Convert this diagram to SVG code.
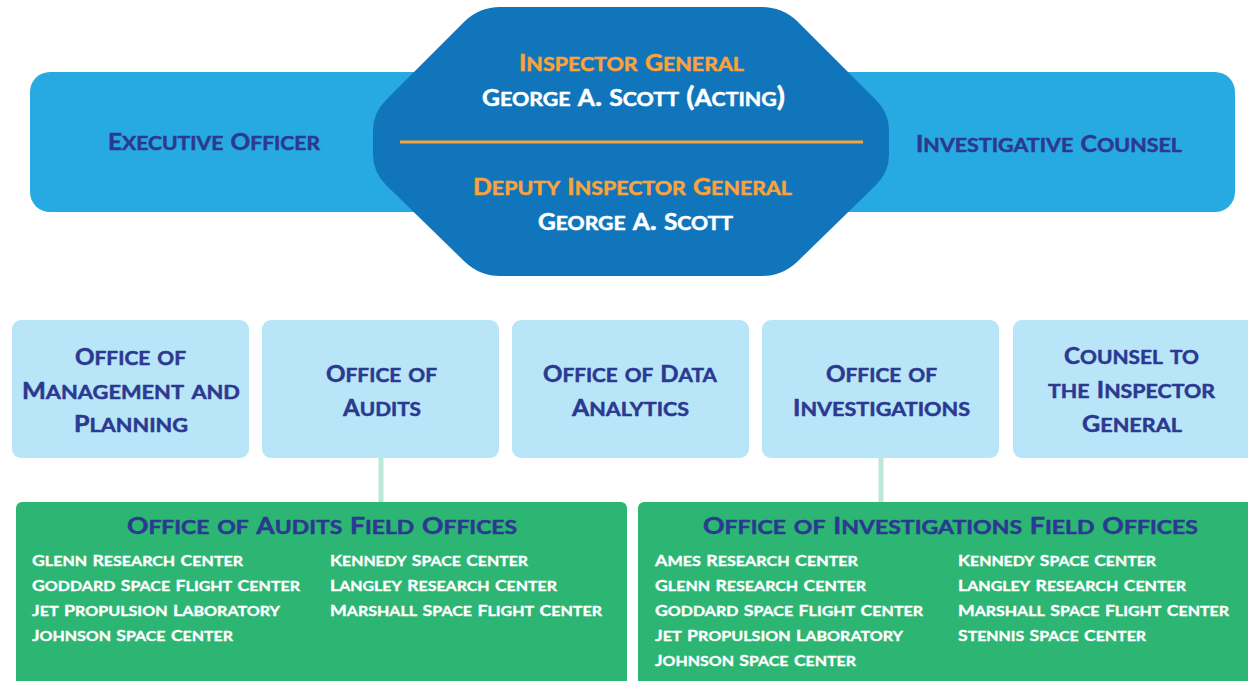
<svg xmlns="http://www.w3.org/2000/svg" width="1248" height="681" viewBox="0 0 1248 681">
<style>
text{font-family:Lato,"Open Sans","Liberation Sans",sans-serif;font-weight:bold;font-variant:small-caps;stroke-width:0.5px;stroke-linejoin:round;}
text.h{font-size:26.5px;}
text.h tspan{font-size:22px;}
text.l{font-size:19.5px;fill:#FFFFFF;stroke:#FFFFFF;stroke-width:0.35px;}
text.l tspan{font-size:15.5px;}
.navy{fill:#2B3990;stroke:#2B3990;}
.org{fill:#F9A33A;stroke:#F9A33A;}
.wh{fill:#FFFFFF;stroke:#FFFFFF;}
.c{text-anchor:middle;}
.lt{fill:#B9E5F9;}
.gr{fill:#2DB673;}
.conn{stroke:#BDE8D5;stroke-width:5;fill:none;}
</style>
<rect width="1248" height="681" fill="#FFFFFF"/>
<g id="top-bar">
<rect x="30" y="72" width="1205" height="140" rx="20" fill="#27AAE1"/>
</g>
<g id="executive-officer">
<text class="h navy c" x="214" y="150" textLength="212" lengthAdjust="spacingAndGlyphs"><tspan>E</tspan>xecutive <tspan>O</tspan>fficer</text>
</g>
<g id="investigative-counsel">
<text class="h navy c" x="1049" y="152" textLength="266" lengthAdjust="spacingAndGlyphs"><tspan>I</tspan>nvestigative <tspan>C</tspan>ounsel</text>
</g>
<g id="inspector-general">
<path d="M 500 7 L 762 7 Q 782 7 797 21 L 876 100 Q 889 113 889 130 L 889 155 Q 889 172 876 185 L 797 262 Q 782 276 762 276 L 500 276 Q 480 276 465 262 L 386 185 Q 373 172 373 155 L 373 130 Q 373 113 386 100 L 465 21 Q 480 7 500 7 Z" fill="#1175BC"/>
<text class="h org c" x="631.5" y="71" textLength="225" lengthAdjust="spacingAndGlyphs"><tspan>I</tspan>nspector <tspan>G</tspan>eneral</text>
<text class="h wh c" x="633.5" y="106" textLength="303" lengthAdjust="spacingAndGlyphs"><tspan>G</tspan>eorge <tspan>A</tspan>. <tspan>S</tspan>cott (<tspan>A</tspan>cting)</text>
<line x1="400" y1="142" x2="863" y2="142" stroke="#F9A33A" stroke-width="3"/>
<text class="h org c" x="632.5" y="195" textLength="319" lengthAdjust="spacingAndGlyphs"><tspan>D</tspan>eputy <tspan>I</tspan>nspector <tspan>G</tspan>eneral</text>
<text class="h wh c" x="635.5" y="230" textLength="195" lengthAdjust="spacingAndGlyphs"><tspan>G</tspan>eorge <tspan>A</tspan>. <tspan>S</tspan>cott</text>
</g>
<g id="connectors">
<line class="conn" x1="381" y1="458" x2="381" y2="503"/>
<line class="conn" x1="881" y1="458" x2="881" y2="503"/>
</g>
<g id="office-management-planning">
<rect class="lt" x="12" y="320" width="237" height="138" rx="9"/>
<text class="h navy c" x="130.5" y="365" textLength="111" lengthAdjust="spacingAndGlyphs"><tspan>O</tspan>ffice of</text>
<text class="h navy c" x="131" y="399" textLength="218" lengthAdjust="spacingAndGlyphs"><tspan>M</tspan>anagement and</text>
<text class="h navy c" x="131" y="432" textLength="114" lengthAdjust="spacingAndGlyphs"><tspan>P</tspan>lanning</text>
</g>
<g id="office-audits">
<rect class="lt" x="262" y="320" width="237" height="138" rx="9"/>
<text class="h navy c" x="381.5" y="382" textLength="111" lengthAdjust="spacingAndGlyphs"><tspan>O</tspan>ffice of</text>
<text class="h navy c" x="382" y="416" textLength="78" lengthAdjust="spacingAndGlyphs"><tspan>A</tspan>udits</text>
</g>
<g id="office-data-analytics">
<rect class="lt" x="512" y="320" width="237" height="138" rx="9"/>
<text class="h navy c" x="630" y="382" textLength="174" lengthAdjust="spacingAndGlyphs"><tspan>O</tspan>ffice of <tspan>D</tspan>ata</text>
<text class="h navy c" x="630.5" y="416" textLength="117" lengthAdjust="spacingAndGlyphs"><tspan>A</tspan>nalytics</text>
</g>
<g id="office-investigations">
<rect class="lt" x="762" y="320" width="237" height="138" rx="9"/>
<text class="h navy c" x="881.5" y="382" textLength="111" lengthAdjust="spacingAndGlyphs"><tspan>O</tspan>ffice of</text>
<text class="h navy c" x="881.5" y="416" textLength="177" lengthAdjust="spacingAndGlyphs"><tspan>I</tspan>nvestigations</text>
</g>
<g id="counsel-ig">
<rect class="lt" x="1013" y="320" width="245" height="138" rx="9"/>
<text class="h navy c" x="1131.5" y="364" textLength="135" lengthAdjust="spacingAndGlyphs"><tspan>C</tspan>ounsel to</text>
<text class="h navy c" x="1131.5" y="398" textLength="167" lengthAdjust="spacingAndGlyphs">the <tspan>I</tspan>nspector</text>
<text class="h navy c" x="1132" y="432" textLength="100" lengthAdjust="spacingAndGlyphs"><tspan>G</tspan>eneral</text>
</g>
<g id="audits-field-offices">
<rect class="gr" x="16" y="502" width="611" height="190" rx="6"/>
<text class="h navy c" x="322" y="534" textLength="390" lengthAdjust="spacingAndGlyphs"><tspan>O</tspan>ffice of <tspan>A</tspan>udits <tspan>F</tspan>ield <tspan>O</tspan>ffices</text>
<text class="l" x="32" y="566" textLength="211" lengthAdjust="spacingAndGlyphs"><tspan>G</tspan>lenn <tspan>R</tspan>esearch <tspan>C</tspan>enter</text>
<text class="l" x="32" y="591" textLength="268" lengthAdjust="spacingAndGlyphs"><tspan>G</tspan>oddard <tspan>S</tspan>pace <tspan>F</tspan>light <tspan>C</tspan>enter</text>
<text class="l" x="32" y="616" textLength="248" lengthAdjust="spacingAndGlyphs"><tspan>J</tspan>et <tspan>P</tspan>ropulsion <tspan>L</tspan>aboratory</text>
<text class="l" x="32" y="641" textLength="201" lengthAdjust="spacingAndGlyphs"><tspan>J</tspan>ohnson <tspan>S</tspan>pace <tspan>C</tspan>enter</text>
<text class="l" x="330" y="566" textLength="198" lengthAdjust="spacingAndGlyphs"><tspan>K</tspan>ennedy <tspan>S</tspan>pace <tspan>C</tspan>enter</text>
<text class="l" x="330" y="591" textLength="227" lengthAdjust="spacingAndGlyphs"><tspan>L</tspan>angley <tspan>R</tspan>esearch <tspan>C</tspan>enter</text>
<text class="l" x="330" y="616" textLength="272" lengthAdjust="spacingAndGlyphs"><tspan>M</tspan>arshall <tspan>S</tspan>pace <tspan>F</tspan>light <tspan>C</tspan>enter</text>
</g>
<g id="investigations-field-offices">
<rect class="gr" x="638" y="502" width="620" height="190" rx="6"/>
<text class="h navy c" x="950.5" y="534" textLength="495" lengthAdjust="spacingAndGlyphs"><tspan>O</tspan>ffice of <tspan>I</tspan>nvestigations <tspan>F</tspan>ield <tspan>O</tspan>ffices</text>
<text class="l" x="655" y="566" textLength="203" lengthAdjust="spacingAndGlyphs"><tspan>A</tspan>mes <tspan>R</tspan>esearch <tspan>C</tspan>enter</text>
<text class="l" x="655" y="591" textLength="211" lengthAdjust="spacingAndGlyphs"><tspan>G</tspan>lenn <tspan>R</tspan>esearch <tspan>C</tspan>enter</text>
<text class="l" x="655" y="616" textLength="268" lengthAdjust="spacingAndGlyphs"><tspan>G</tspan>oddard <tspan>S</tspan>pace <tspan>F</tspan>light <tspan>C</tspan>enter</text>
<text class="l" x="655" y="641" textLength="248" lengthAdjust="spacingAndGlyphs"><tspan>J</tspan>et <tspan>P</tspan>ropulsion <tspan>L</tspan>aboratory</text>
<text class="l" x="655" y="666" textLength="201" lengthAdjust="spacingAndGlyphs"><tspan>J</tspan>ohnson <tspan>S</tspan>pace <tspan>C</tspan>enter</text>
<text class="l" x="958" y="566" textLength="198" lengthAdjust="spacingAndGlyphs"><tspan>K</tspan>ennedy <tspan>S</tspan>pace <tspan>C</tspan>enter</text>
<text class="l" x="958" y="591" textLength="228" lengthAdjust="spacingAndGlyphs"><tspan>L</tspan>angley <tspan>R</tspan>esearch <tspan>C</tspan>enter</text>
<text class="l" x="958" y="616" textLength="271" lengthAdjust="spacingAndGlyphs"><tspan>M</tspan>arshall <tspan>S</tspan>pace <tspan>F</tspan>light <tspan>C</tspan>enter</text>
<text class="l" x="958" y="641" textLength="188" lengthAdjust="spacingAndGlyphs"><tspan>S</tspan>tennis <tspan>S</tspan>pace <tspan>C</tspan>enter</text>
</g>
</svg>
